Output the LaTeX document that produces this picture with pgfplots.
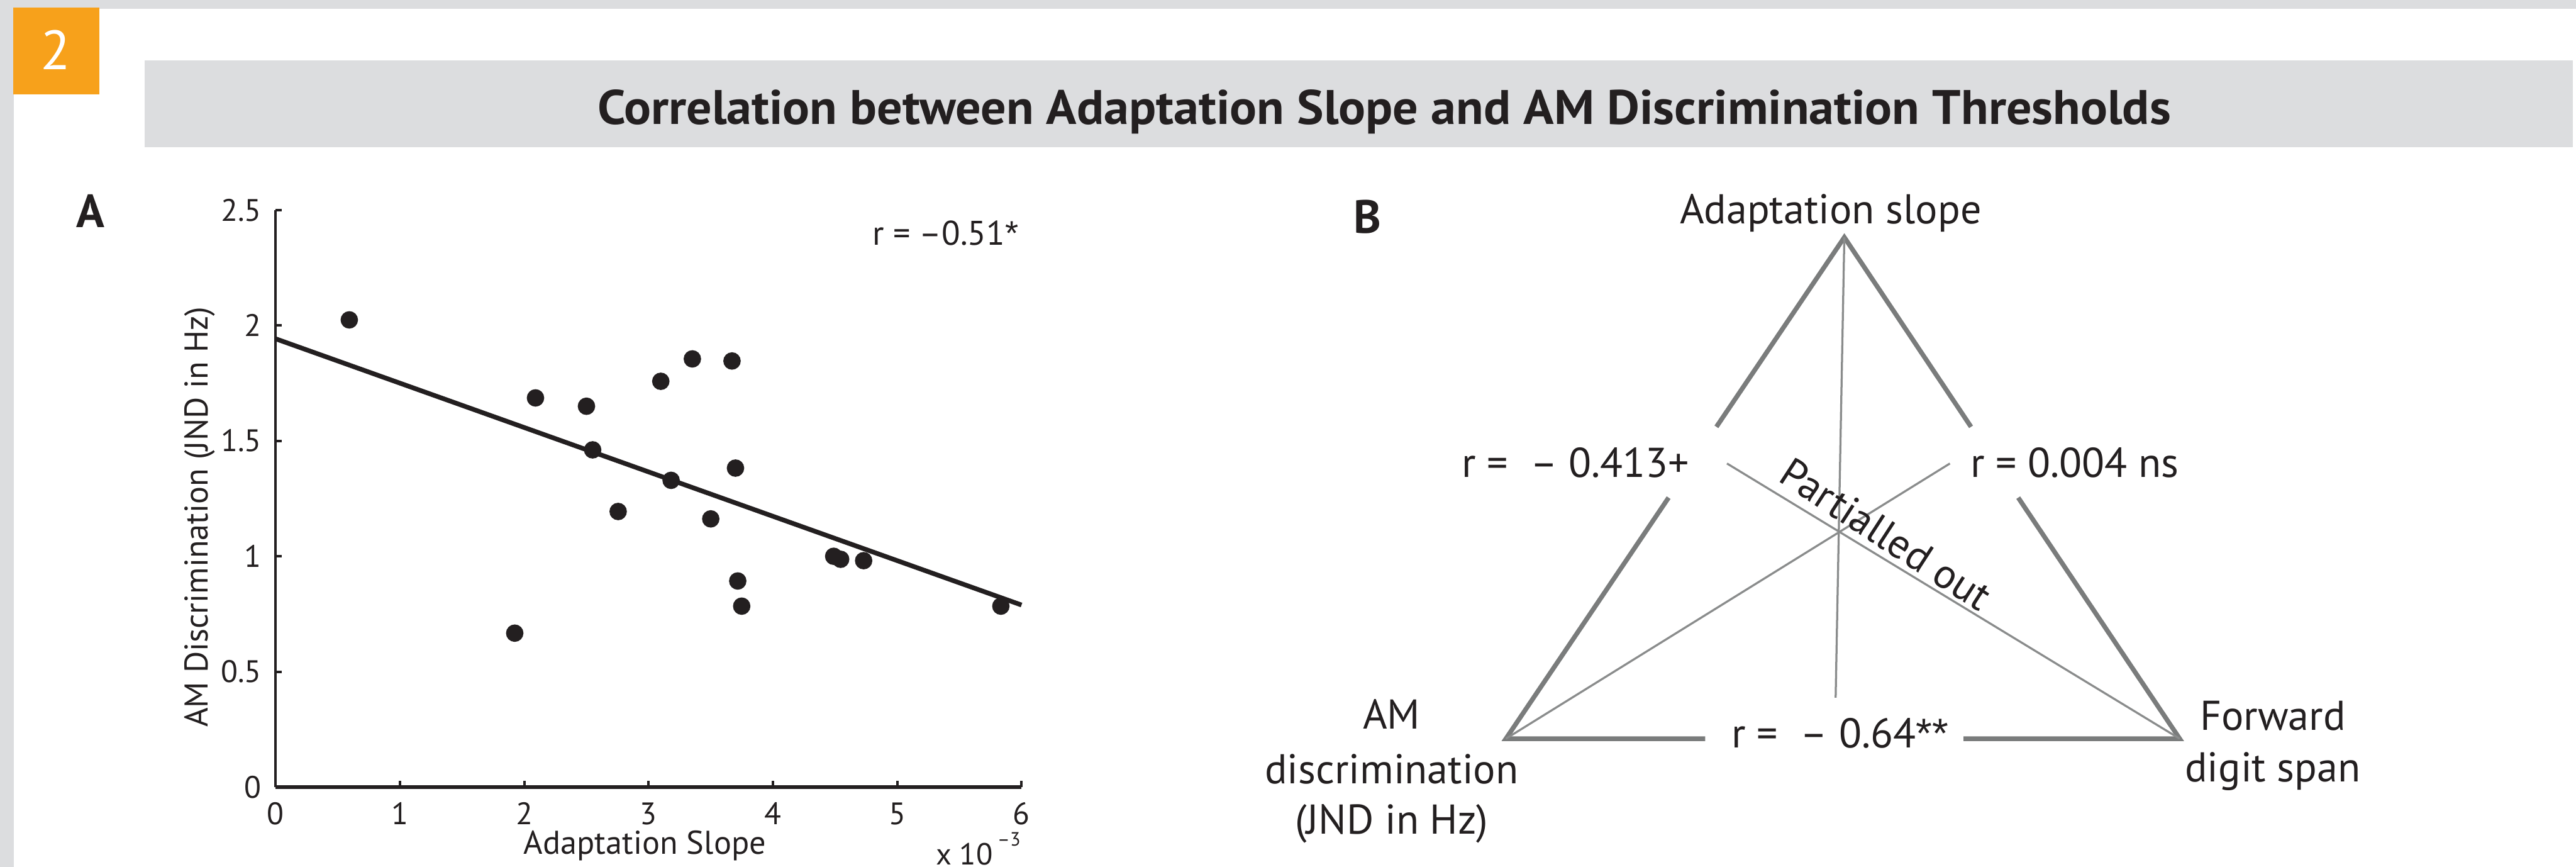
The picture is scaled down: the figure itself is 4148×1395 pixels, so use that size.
\documentclass[border=0pt]{standalone}
\usepackage{pgfplots}
\pgfplotsset{compat=1.18}
\usepackage{fontspec}
\setmainfont{PT Sans}
\newfontfamily\lib{Liberation Sans}
\definecolor{bandgray}{HTML}{DCDDDF}
\definecolor{boxorange}{HTML}{F7A11B}
\definecolor{ink}{HTML}{231F20}
\definecolor{trigray}{HTML}{7A7C7C}
\definecolor{thingray}{HTML}{8A8C8C}
\newcommand\fs[1]{\fontsize{#1}{1.2\dimexpr#1\relax}\selectfont}
\newcommand\sigast{{\lib *}}
\begin{document}
\begin{tikzpicture}
\begin{scope}[x=0.1pt,y=-0.1pt]
\useasboundingbox (0,0) rectangle (4148,1395);
\fill[white] (0,0) rectangle (4148,1395);
% header decorations
\fill[bandgray] (0,0) rectangle (4148,14);
\fill[bandgray] (0,0) rectangle (22,1395);
\fill[boxorange] (21,12) rectangle (160,152);
\fill[bandgray] (233,97) rectangle (4143,237);
\node[anchor=base,inner sep=0pt,text=white] at (90,112) {\fs{8.9pt}2};
\node[anchor=base,inner sep=0pt,text=ink] at (2229,200) {\scalebox{1.04}[1]{\fs{7.8pt}\bfseries Correlation between Adaptation Slope and AM Discrimination Thresholds}};
\node[anchor=base west,inner sep=0pt,text=ink] at (121,366) {\fs{7.5pt}\bfseries A};
\node[anchor=base west,inner sep=0pt,text=ink] at (2178,375) {\fs{7.5pt}\bfseries B};
\node[anchor=base west, inner sep=0pt, text=ink] at (1505,1392) {\fs{4.9pt}x 10};
\node[anchor=base west, inner sep=0pt, text=ink] at (1604,1362) {\fs{3.1pt}–3};
\end{scope}

% Panel A
\begin{axis}[
  at={(44.4pt,-126.7pt)}, anchor=south west, scale only axis,
  width=120.1pt, height=92.9pt,
  xmin=0, xmax=6, ymin=0, ymax=2.5,
  axis lines=left,
  x axis line style={-, line width=0.55pt, draw=ink},
  y axis line style={-, line width=0.42pt, draw=ink},
  xtick={0,1,2,3,4,5,6},
  ytick={0,0.5,1,1.5,2,2.5},
  yticklabels={0,0.5,1,1.5,2,2.5},
  tick align=inside,
  major tick length=1pt,
  every tick/.style={line width=0.42pt, draw=ink},
  tick label style={font=\fs{5.0pt}, inner sep=0pt, text=ink},
  /pgf/number format/assume math mode=true,
  xticklabel shift=2.3pt,
  yticklabel shift=2.1pt,
  xlabel={Adaptation Slope},
  ylabel={AM Discrimination (JND in Hz)},
  label style={font=\fs{5.3pt}, inner sep=0pt, text=ink},
  xlabel style={at={(axis description cs:0.495,-0.1163)}, anchor=base},
  ylabel style={at={(axis description cs:-0.1016,0.468)}, anchor=center},
  clip=false,
]
\addplot[only marks, mark=*, mark size=1.2pt, mark options={fill=ink, draw=ink}] coordinates {
(0.592,2.024) (2.09,1.686) (2.50,1.650) (2.55,1.461) (1.923,0.667)
(2.755,1.194) (3.098,1.758) (3.181,1.329) (3.352,1.855) (3.50,1.162)
(3.671,1.846) (3.699,1.382) (3.717,0.893) (3.749,0.784) (4.489,1.000)
(4.545,0.987) (4.730,0.981) (5.834,0.784)
};
\addplot[ink, line width=0.75pt] coordinates {(0,1.942) (6,0.789)};
\node[anchor=base east, inner sep=0pt, text=ink] at (axis cs:5.985,2.349) {\fs{5.5pt}r = –0.51\sigast};
\end{axis}

% Panel B
\begin{axis}[
  at={(0pt,-139.5pt)}, anchor=south west, scale only axis,
  width=414.8pt, height=139.5pt,
  xmin=0, xmax=4148, ymin=0, ymax=1395, y dir=reverse,
  axis lines=none, clip=false,
]
\addplot[draw=trigray, line width=0.75pt] coordinates {(2764,687) (2970,382) (3174,687)};
\addplot[draw=trigray, line width=0.75pt] coordinates {(2687,801) (2425,1189) (2746,1189)};
\addplot[draw=trigray, line width=0.75pt] coordinates {(3250,801) (3510,1189) (3162,1189)};
\addplot[draw=thingray, line width=0.33pt] coordinates {(2970,382) (2956,1123)};
\addplot[draw=thingray, line width=0.33pt] coordinates {(2425,1189) (3140,746)};
\addplot[draw=thingray, line width=0.33pt] coordinates {(3510,1189) (2781,746)};
\node[anchor=base, inner sep=0pt, text=ink] at (axis cs:2948,360) {\fs{6.7pt}Adaptation slope};
\node[anchor=base west, inner sep=0pt, text=ink] at (axis cs:2352,768) {\fs{6.7pt}r =\ \ – 0.413+};
\node[anchor=base west, inner sep=0pt, text=ink] at (axis cs:3171,768) {\fs{6.7pt}r = 0.004 ns};
\node[anchor=base west, inner sep=0pt, text=ink] at (axis cs:2787,1204) {\fs{6.7pt}r =\ \ – 0.64\sigast\sigast};
\node[rotate=-33, inner sep=0pt, text=ink] at (axis cs:3037,860) {\fs{6.7pt}Partialled out};
\node[anchor=base, inner sep=0pt, text=ink] at (axis cs:2241,1173) {\fs{6.7pt}AM};
\node[anchor=base, inner sep=0pt, text=ink] at (axis cs:2241,1261) {\fs{6.7pt}discrimination};
\node[anchor=base, inner sep=0pt, text=ink] at (axis cs:2241,1342) {\fs{6.7pt}(JND in Hz)};
\node[anchor=base, inner sep=0pt, text=ink] at (axis cs:3660,1175) {\fs{6.7pt}Forward};
\node[anchor=base, inner sep=0pt, text=ink] at (axis cs:3660,1258) {\fs{6.7pt}digit span};
\end{axis}
\end{tikzpicture}
\end{document}
